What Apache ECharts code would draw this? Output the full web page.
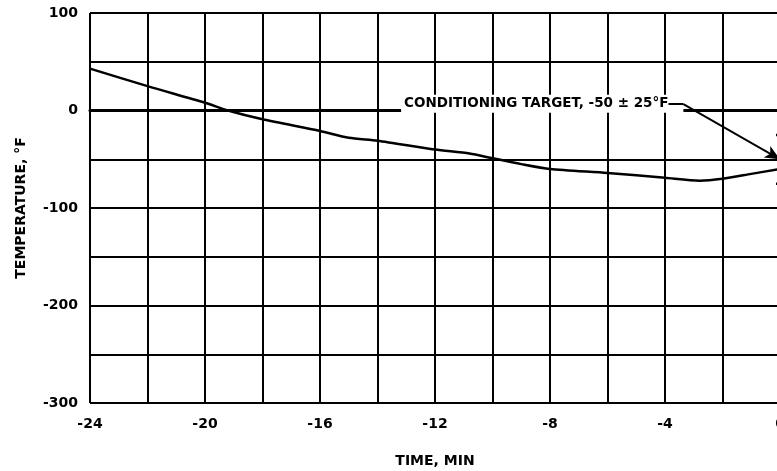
<!DOCTYPE html>
<html>
<head>
<meta charset="utf-8">
<script src="https://cdn.jsdelivr.net/npm/echarts@6/dist/echarts.min.js"></script>
<style>html,body{margin:0;padding:0;background:#fff}#c{width:777px;height:471px}</style>
</head>
<body>
<div id="c"></div>
<script>
// Temperature history (time in min, temperature in deg F)
var timeMin = [-24, -22, -20, -19.2, -18, -16, -15, -14, -12, -10.8, -10, -9, -8, -6, -4, -2.8, -2, -1, 0];
var tempF   = [43, 25, 8, 0, -9, -21, -28, -31, -40, -44, -49, -55, -60, -64, -69, -72, -70, -65, -60];

// Axis settings
var xTicks = [-24, -20, -16, -12, -8, -4, 0];
var yTicks = [-300, -200, -100, 0, 100];

// Annotation: conditioning target and tolerance band at time 0
var targetText = 'CONDITIONING TARGET, -50 \u00B1 25\u00B0F';
var leaderStart = [-3.88, 6.5];
var leaderKnee = [-3.36, 6.5];
var targetPoint = [0, -50];
var toleranceMarks = [[0, -25], [0, -75]];

var FONT = 'DejaVu Sans';
var chart = echarts.init(document.getElementById('c'));
var lineStyleGrid = {color: '#000', width: 2};

chart.setOption({
  animation: false,
  backgroundColor: '#fff',
  grid: {left: 90, width: 690, top: 13, height: 390, show: false, containLabel: false, outerBoundsMode: 'none'},
  xAxis: {
    type: 'value', min: xTicks[0], max: xTicks[xTicks.length - 1], interval: 4,
    name: 'TIME, MIN', nameLocation: 'middle', nameGap: 51,
    nameTextStyle: {fontFamily: FONT, fontWeight: 'bold', fontSize: 14, color: '#000'},
    axisLine: {show: true, lineStyle: {color: '#000', width: 3}},
    axisTick: {show: false},
    axisLabel: {fontFamily: FONT, fontWeight: 'bold', fontSize: 14, color: '#000', margin: 14},
    splitLine: {show: true, lineStyle: lineStyleGrid},
    minorTick: {show: false, splitNumber: 2},
    minorSplitLine: {show: true, lineStyle: lineStyleGrid}
  },
  yAxis: {
    type: 'value', min: yTicks[0], max: yTicks[yTicks.length - 1], interval: 100,
    name: 'TEMPERATURE, \u00B0F', nameLocation: 'middle', nameGap: 62, nameRotate: 90,
    nameTextStyle: {fontFamily: FONT, fontWeight: 'bold', fontSize: 14, color: '#000'},
    axisLine: {show: true, lineStyle: {color: '#000', width: 3}},
    axisTick: {show: false},
    axisLabel: {fontFamily: FONT, fontWeight: 'bold', fontSize: 14, color: '#000', margin: 12},
    splitLine: {show: true, lineStyle: lineStyleGrid},
    minorTick: {show: false, splitNumber: 2},
    minorSplitLine: {show: true, lineStyle: lineStyleGrid}
  },
  series: [
    {
      type: 'line',
      data: timeMin.map(function (t, i) { return [t, tempF[i]]; }),
      showSymbol: false, smooth: 0.25,
      lineStyle: {color: '#000', width: 2.5},
      z: 3
    },
    {
      type: 'scatter',
      data: [[leaderKnee[0], 7]],
      symbolSize: 0,
      silent: true,
      z: 4,
      itemStyle: {opacity: 1, color: '#000'},
      label: {
        show: true, position: 'left', distance: 0,
        formatter: targetText,
        fontFamily: FONT, fontWeight: 'bold', fontSize: 13.5, color: '#000', opacity: 1,
        backgroundColor: '#fff', padding: [1, 15, 3, 3]
      }
    },
    {
      type: 'scatter',
      data: toleranceMarks,
      symbol: 'rect', symbolSize: [8, 2.5],
      itemStyle: {color: '#000', opacity: 1},
      silent: true, z: 6,
      markLine: {
        silent: true, symbol: ['none', 'none'],
        label: {show: false},
        lineStyle: {color: '#000', width: 2, type: 'solid', opacity: 1},
        data: [
          [{coord: leaderStart}, {coord: leaderKnee}],
          [{coord: leaderKnee}, {coord: targetPoint, symbol: 'arrow', symbolSize: [10, 15]}]
        ]
      }
    }
  ]
});
</script>
</body>
</html>
